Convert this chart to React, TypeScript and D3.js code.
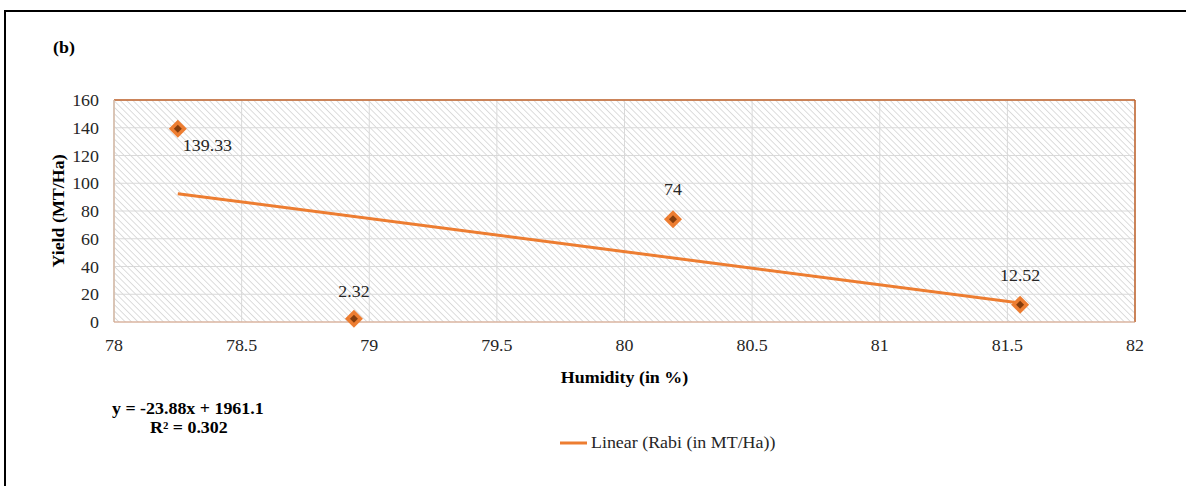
import React from "react";
import * as d3 from "d3";

const humidity = [78.25, 78.94, 80.19, 81.55];
const yieldVals = [139.33, 2.32, 74, 12.52];
const labelText = ["139.33", "2.32", "74", "12.52"];
const xTicks = [78, 78.5, 79, 79.5, 80, 80.5, 81, 81.5, 82];
const yTicks = [0, 20, 40, 60, 80, 100, 120, 140, 160];
const slope = -23.88;
const intercept = 1961.1;

const font = "'Liberation Serif', 'Times New Roman', serif";

function T(props: { x: number; y: number; rot?: number; anchor?: string; bold?: boolean; size?: number; children: React.ReactNode }) {
  const { x, y, rot = 0, anchor = "start", bold = false, size = 16, children } = props;
  return (
    <text
      transform={`translate(${x},${y}) rotate(${rot}) scale(1.12,1)`}
      textAnchor={anchor}
      fontFamily={font}
      fontWeight={bold ? "bold" : "normal"}
      fontSize={size}
      fill={bold ? "#000" : "#262626"}
    >
      {children}
    </text>
  );
}

export default function App() {
  const W = 1186, H = 486;
  const left = 114, right = 1135, top = 100, bottom = 322;
  const x = d3.scaleLinear().domain([78, 82]).range([left, right]);
  const y = d3.scaleLinear().domain([0, 160]).range([bottom, top]);
  const x0 = d3.min(humidity)!, x1 = d3.max(humidity)!;
  const trend = d3.line<number>().x(d => x(d)).y(d => y(slope * d + intercept));
  const diamond = (cx: number, cy: number, r: number) =>
    `M${cx},${cy - r}L${cx + r},${cy}L${cx},${cy + r}L${cx - r},${cy}Z`;
  return (
    <svg width={W} height={H} style={{ position: "absolute", left: 0, top: 0, background: "#fff" }}>
      <defs>
        <pattern id="hatch" width="4.5" height="4.5" patternUnits="userSpaceOnUse" patternTransform="rotate(-45)">
          <rect width="4.5" height="4.5" fill="#fff" />
          <line x1="0" y1="0" x2="0" y2="4.5" stroke="#c6c6c6" strokeWidth="1.2" />
        </pattern>
      </defs>
      <line x1={5} y1={11} x2={W} y2={11} stroke="#000" strokeWidth={2} />
      <line x1={5} y1={10} x2={5} y2={H} stroke="#000" strokeWidth={2} />
      <T x={53} y={53} bold>(b)</T>
      <rect x={left} y={top} width={right - left} height={bottom - top} fill="url(#hatch)" />
      {yTicks.map(t => (
        <line key={"gy" + t} x1={left} x2={right} y1={y(t)} y2={y(t)} stroke="#d9d9d9" strokeWidth={1} />
      ))}
      {xTicks.map(t => (
        <line key={"gx" + t} x1={x(t)} x2={x(t)} y1={top} y2={bottom} stroke="#d9d9d9" strokeWidth={1} />
      ))}
      <line x1={left} x2={right} y1={top} y2={top} stroke="#c0622a" strokeWidth={1.5} />
      <line x1={right} x2={right} y1={top} y2={bottom} stroke="#c0622a" strokeWidth={1.5} />
      <line x1={left} x2={left} y1={top} y2={bottom} stroke="#d4b8a4" strokeWidth={1.5} />
      <line x1={left} x2={right} y1={bottom} y2={bottom} stroke="#d9a283" strokeWidth={1.2} />
      {yTicks.map(t => (
        <T key={"ty" + t} x={99} y={y(t) + 6} anchor="end">{t}</T>
      ))}
      {xTicks.map(t => (
        <T key={"tx" + t} x={x(t)} y={351} anchor="middle">{t}</T>
      ))}
      <T x={(left + right) / 2} y={383} anchor="middle" bold>Humidity (in %)</T>
      <T x={64} y={(top + bottom) / 2} rot={-90} anchor="middle" bold>Yield (MT/Ha)</T>
      <path d={trend([x0, x1]) || ""} fill="none" stroke="#ed7d31" strokeWidth={3} />
      {humidity.map((h, i) => (
        <g key={"p" + i}>
          <path d={diamond(x(h), y(yieldVals[i]), 9)} fill="#ed7d31" />
          <path d={diamond(x(h), y(yieldVals[i]), 4)} fill="#843c0c" />
        </g>
      ))}
      {humidity.map((h, i) =>
        i === 0 ? (
          <T key={"l" + i} x={x(h) + 5} y={y(yieldVals[i]) + 22}>{labelText[i]}</T>
        ) : (
          <T key={"l" + i} x={x(h)} y={y(yieldVals[i]) - (i === 1 ? 22 : 24)} anchor="middle">{labelText[i]}</T>
        )
      )}
      <T x={112} y={414} bold>y = -23.88x + 1961.1</T>
      <T x={150} y={433} bold>R² = 0.302</T>
      <line x1={560} x2={587} y1={443} y2={443} stroke="#ed7d31" strokeWidth={3} />
      <T x={591} y={448}>Linear (Rabi (in MT/Ha))</T>
    </svg>
  );
}
